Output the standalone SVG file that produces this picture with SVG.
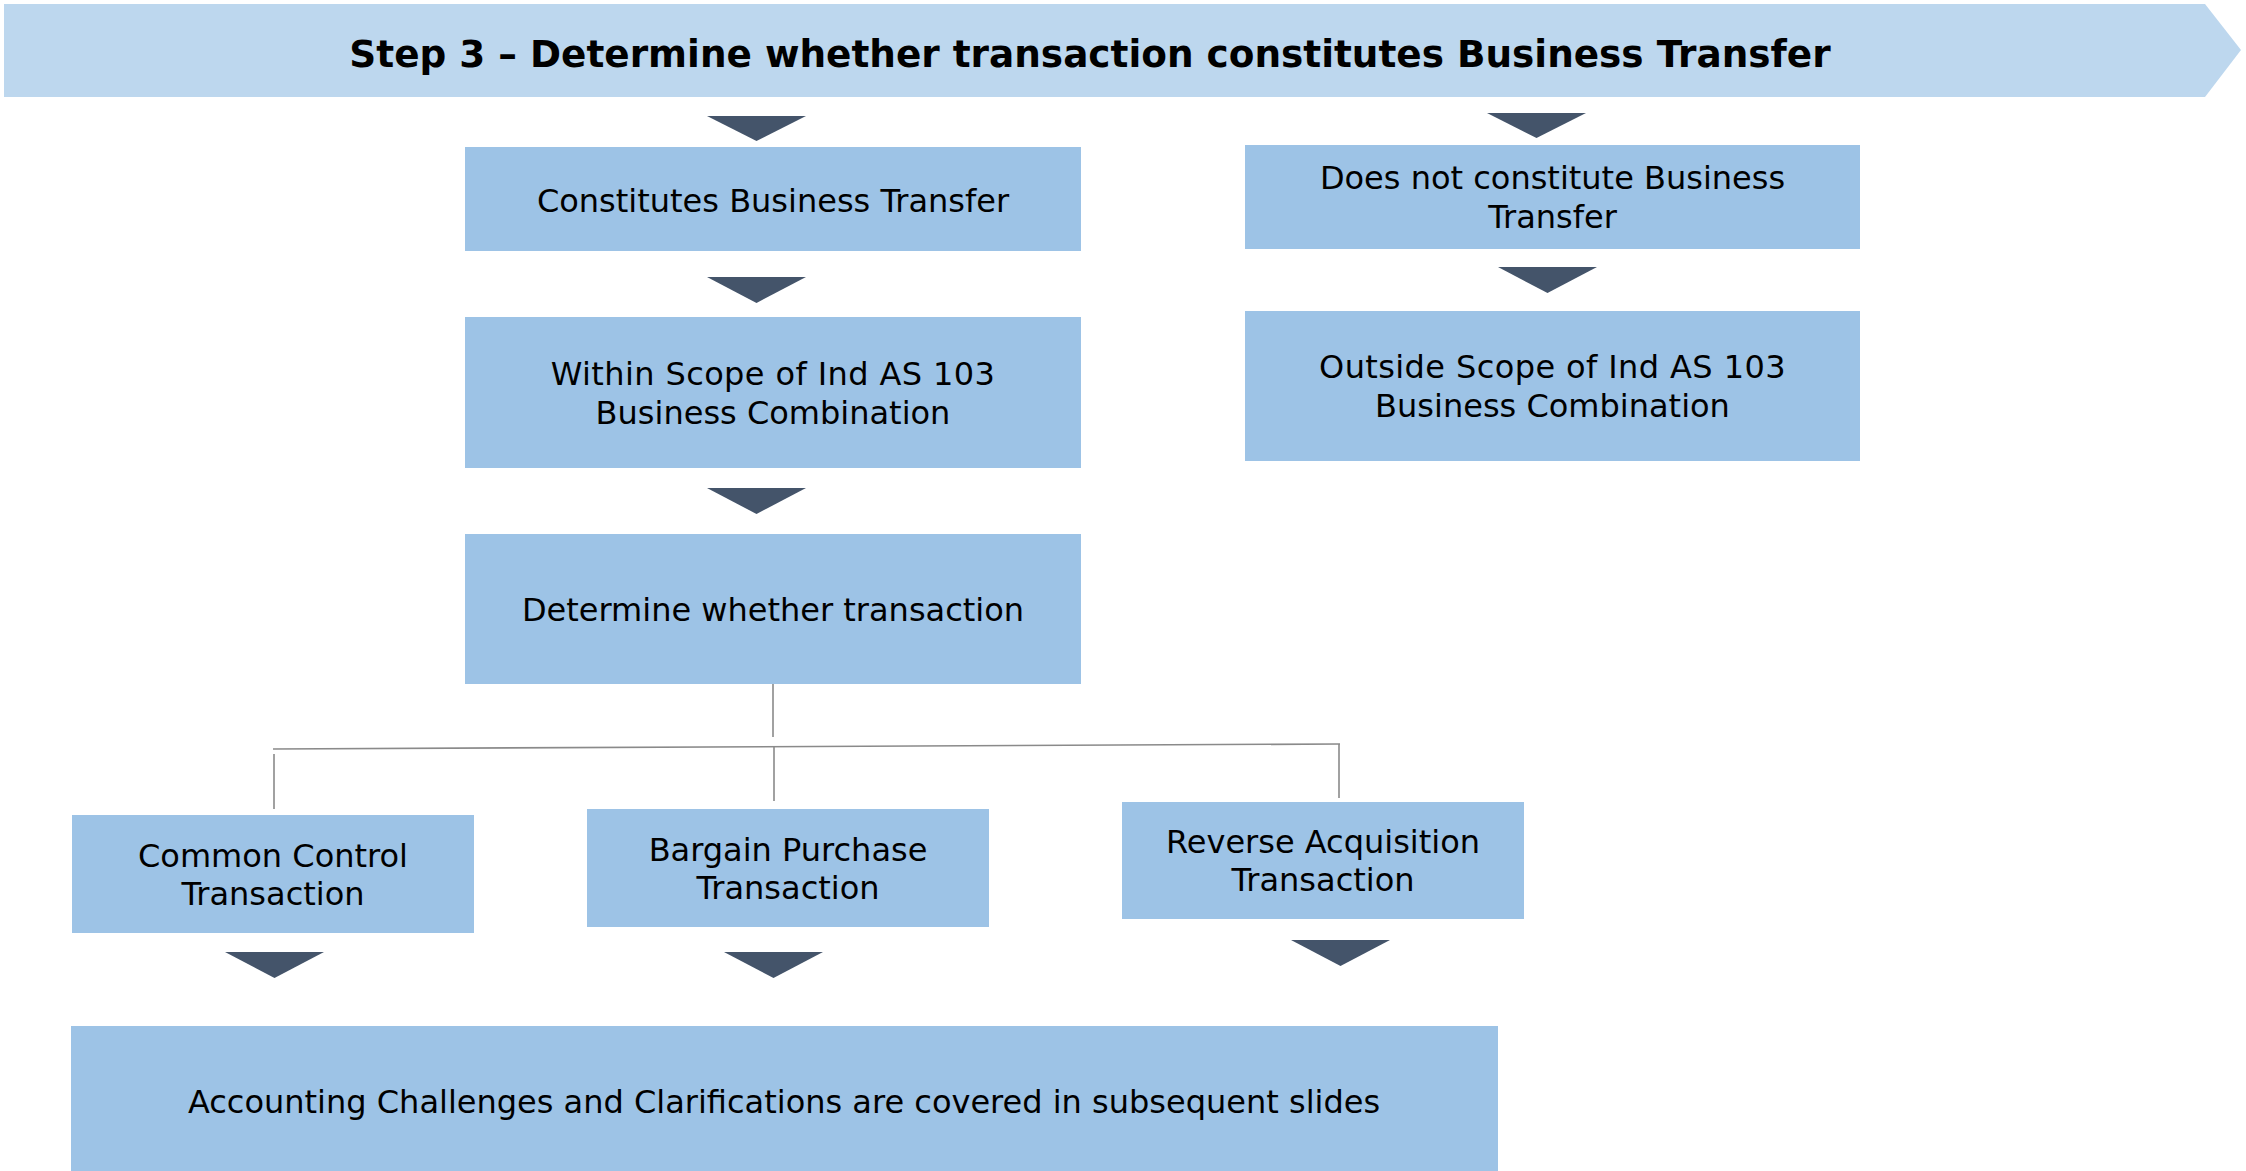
<svg xmlns="http://www.w3.org/2000/svg" width="2246" height="1171" viewBox="0 0 2246 1171">
<style>
  .box { fill: #9DC3E6; }
  .tri { fill: #44546A; }
  .lbl { font-family: "DejaVu Sans", Verdana, sans-serif; font-size: 32px; fill: #000; text-anchor: middle; }
  .title { font-family: "DejaVu Sans", Verdana, sans-serif; font-size: 37.4px; font-weight: bold; fill: #000; text-anchor: middle; }
  .conn { stroke: #8A8A8A; stroke-width: 1.6; fill: none; }
</style>
<rect x="0" y="0" width="2246" height="1171" fill="#FFFFFF"/>

<g id="banner">
  <polygon points="4,4 2205,4 2241,50 2205,97 4,97" fill="#BDD7EE"/>
  <text class="title" x="1090" y="67">Step 3 – Determine whether transaction constitutes Business Transfer</text>
</g>

<g id="arrows">
  <polygon class="tri" points="707,116 806,116 756.5,141"/>
  <polygon class="tri" points="707,277 806,277 756.5,303"/>
  <polygon class="tri" points="707,488 806,488 756.5,514"/>
  <polygon class="tri" points="1487,113 1586,113 1536.5,138"/>
  <polygon class="tri" points="1498,267 1597,267 1547.5,293"/>
  <polygon class="tri" points="225,952 324,952 274.5,978"/>
  <polygon class="tri" points="724,952 823,952 773.5,978"/>
  <polygon class="tri" points="1291,940 1390,940 1340.5,966"/>
</g>

<g id="connectors">
  <line class="conn" x1="773" y1="684" x2="773" y2="737"/>
  <line class="conn" x1="273" y1="749" x2="1340" y2="744"/>
  <line class="conn" x1="274" y1="754" x2="274" y2="809"/>
  <line class="conn" x1="774" y1="747" x2="774" y2="801"/>
  <line class="conn" x1="1339" y1="744" x2="1339" y2="798"/>
</g>

<g id="constitutes">
  <rect class="box" x="465" y="147" width="616" height="104"/>
  <text class="lbl" x="773" y="212">Constitutes Business Transfer</text>
</g>

<g id="within-scope">
  <rect class="box" x="465" y="317" width="616" height="151"/>
  <text class="lbl" x="773" y="385" letter-spacing="0.4">Within Scope of Ind AS 103</text>
  <text class="lbl" x="773" y="424">Business Combination</text>
</g>

<g id="determine">
  <rect class="box" x="465" y="534" width="616" height="150"/>
  <text class="lbl" x="773" y="621">Determine whether transaction</text>
</g>

<g id="not-constitute">
  <rect class="box" x="1245" y="145" width="615" height="104"/>
  <text class="lbl" x="1552.5" y="189">Does not constitute Business</text>
  <text class="lbl" x="1552.5" y="228">Transfer</text>
</g>

<g id="outside-scope">
  <rect class="box" x="1245" y="311" width="615" height="150"/>
  <text class="lbl" x="1552.5" y="378" letter-spacing="0.4">Outside Scope of Ind AS 103</text>
  <text class="lbl" x="1552.5" y="417">Business Combination</text>
</g>

<g id="common-control">
  <rect class="box" x="72" y="815" width="402" height="118"/>
  <text class="lbl" x="273" y="867">Common Control</text>
  <text class="lbl" x="273" y="905">Transaction</text>
</g>

<g id="bargain">
  <rect class="box" x="587" y="809" width="402" height="118"/>
  <text class="lbl" x="788" y="861">Bargain Purchase</text>
  <text class="lbl" x="788" y="899">Transaction</text>
</g>

<g id="reverse">
  <rect class="box" x="1122" y="802" width="402" height="117"/>
  <text class="lbl" x="1323" y="853">Reverse Acquisition</text>
  <text class="lbl" x="1323" y="891">Transaction</text>
</g>

<g id="accounting">
  <rect class="box" x="71" y="1026" width="1427" height="145"/>
  <text class="lbl" x="784" y="1113">Accounting Challenges and Clarifications are covered in subsequent slides</text>
</g>
</svg>
